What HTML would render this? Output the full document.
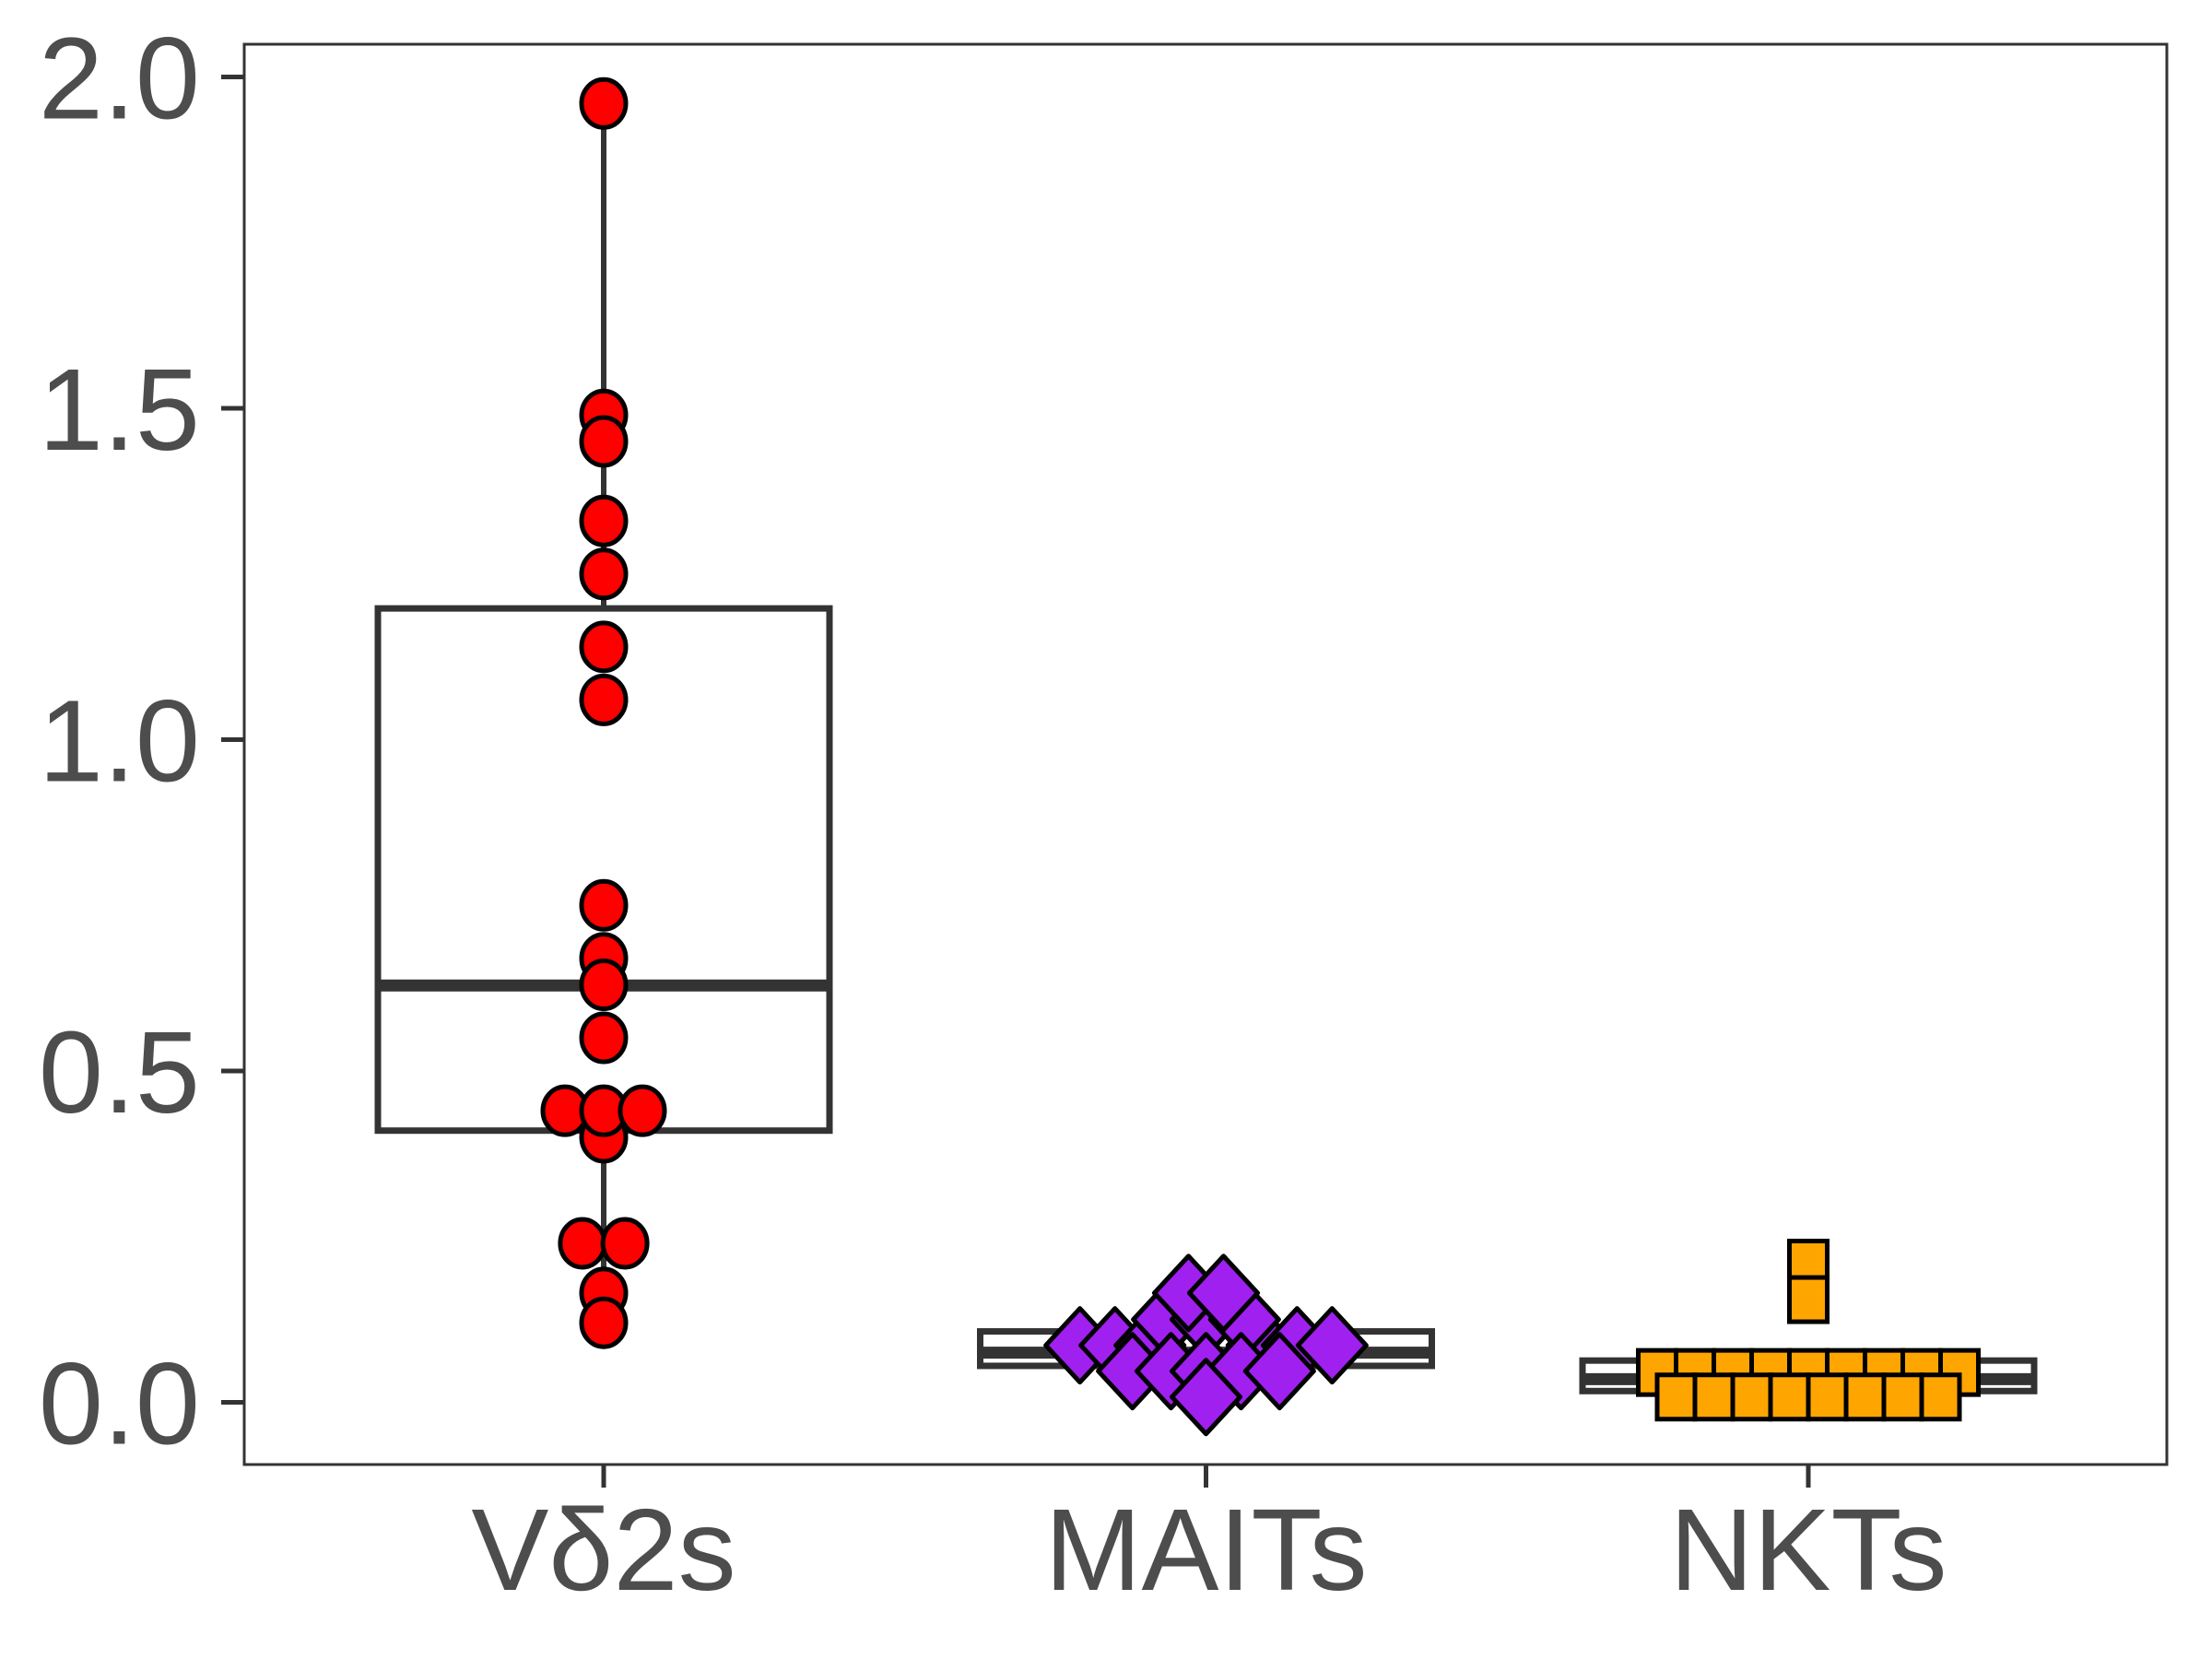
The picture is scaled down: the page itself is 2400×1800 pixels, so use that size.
<!DOCTYPE html>
<html><head><meta charset="utf-8"><style>
html,body{margin:0;padding:0;background:#fff;}
svg{display:block;}
text{font-family:"Liberation Sans","DejaVu Sans",sans-serif;fill:#4D4D4D;}
</style></head><body>
<svg id="chart" width="2400" height="1800" viewBox="0 0 2400 1800" xmlns="http://www.w3.org/2000/svg">
<rect x="0" y="0" width="2400" height="1800" fill="#fff"/>
<g id="marks"></g>
<rect x="265" y="48" width="2086" height="1541" fill="none" stroke="#333" stroke-width="3"/>
<g id="axes"></g>
</svg>
<script>
const categories = ["Vδ2s", "MAITs", "NKTs"];
const yTicks = [0, 0.5, 1, 1.5, 2];
const yTickLabels = ["0.0", "0.5", "1.0", "1.5", "2.0"];
// box stats: [q1, median, q3, whiskerLow, whiskerHigh]
const boxV = [0.41, 0.629, 1.198, 0.12, 1.96];
const boxM = [0.055, 0.075, 0.107, 0.055, 0.107];
const boxN = [0.017, 0.035, 0.063, 0.017, 0.063];
// points: values and beeswarm dodge (in marker widths)
const vdValues = [1.96, 1.49, 1.45, 1.33, 1.25, 1.14, 1.06, 0.75, 0.67, 0.63, 0.55, 0.40, 0.44, 0.44, 0.44, 0.24, 0.24, 0.165, 0.12];
const vdDodge  = [0, 0, 0, 0, 0, 0, 0, 0, 0, 0, 0, 0, -0.6, 0, 0.6, -0.33, 0.33, 0, 0];
const maitValues = [0.086, 0.086, 0.086, 0.086, 0.086, 0.086, 0.125, 0.125, 0.125, 0.165, 0.165, 0.047, 0.047, 0.047, 0.047, 0.047, 0.008];
const maitDodge  = [-1.8, -1.3, -0.8, 0.8, 1.3, 1.8, -0.55, 0, 0.55, -0.25, 0.25, -1.05, -0.5, 0, 0.5, 1.05, 0];
const nktValues = [0.21, 0.155, 0.045,0.045,0.045,0.045,0.045,0.045,0.045,0.045,0.045, 0.008,0.008,0.008,0.008,0.008,0.008,0.008,0.008];
const nktDodge  = [0, 0, -4,-3,-2,-1,0,1,2,3,4, -3.5,-2.5,-1.5,-0.5,0.5,1.5,2.5,3.5];

const NS = "http://www.w3.org/2000/svg";
function xScale(i){ return 655 + i * 653.5; }
function yScale(v){ return 1521.5 - v * 719; }
const marks = document.getElementById('marks');
const axes = document.getElementById('axes');
function mk(tag, attrs, parent){
  const e = document.createElementNS(NS, tag);
  for (const k in attrs) e.setAttribute(k, attrs[k]);
  parent.appendChild(e);
  return e;
}
function drawBox(i, b, halfW, name){
  const cx = xScale(i);
  const g = mk('g', {}, marks);
  
  
  const wl = mk('line', {x1:cx, x2:cx, y1:yScale(b[2]), y2:yScale(b[4]), stroke:'#333', 'stroke-width':6}, g);
  
  
  const wl2 = mk('line', {x1:cx, x2:cx, y1:yScale(b[0]), y2:yScale(b[3]), stroke:'#333', 'stroke-width':6}, g);
  
  
  const r = mk('rect', {x:cx-halfW, y:yScale(b[2]), width:halfW*2, height:Math.max(1,yScale(b[0])-yScale(b[2])), fill:'#fff', stroke:'#333', 'stroke-width':7}, g);
  
  
  const m = mk('line', {x1:cx-halfW, x2:cx+halfW, y1:yScale(b[1]), y2:yScale(b[1]), stroke:'#333', 'stroke-width':13}, g);
  
  
}
drawBox(0, boxV, 245, 'vd2s');
drawBox(1, boxM, 245, 'maits');
drawBox(2, boxN, 245, 'nkts');

vdValues.forEach((v, k) => {
  const c = mk('ellipse', {cx: xScale(0) + vdDodge[k]*70, cy: yScale(v), rx: 24, ry: 26, fill:'#FF0000', stroke:'#000', 'stroke-width':5}, marks);
  
  
});
maitValues.forEach((v, k) => {
  const cx = xScale(1) + maitDodge[k]*76, cy = yScale(v), hw = 37, hh = 40;
  const p = mk('polygon', {points:`${cx},${cy-hh} ${cx+hw},${cy} ${cx},${cy+hh} ${cx-hw},${cy}`, fill:'#A020F0', stroke:'#000', 'stroke-width':5, 'stroke-linejoin':'round'}, marks);
  
  
});
nktValues.forEach((v, k) => {
  const cx = xScale(2) + nktDodge[k]*41, cy = yScale(v);
  const s = mk('rect', {x:cx-20.5, y:cy-24, width:41, height:48, fill:'#FFA500', stroke:'#000', 'stroke-width':5}, marks);
  
  
});

yTicks.forEach((t, k) => {
  const y = yScale(t);
  const tk = mk('line', {x1:240, x2:265, y1:y, y2:y, stroke:'#333', 'stroke-width':5}, axes);
  
  
  const tx = mk('text', {x:217, y:y+45, 'text-anchor':'end', 'font-size':126}, axes);
  tx.textContent = yTickLabels[k];
  
  
});
categories.forEach((c, i) => {
  const x = xScale(i);
  const tk = mk('line', {x1:x, x2:x, y1:1589, y2:1614, stroke:'#333', 'stroke-width':5}, axes);
  
  
  const tx = mk('text', {x:x, y:1725, 'text-anchor':'middle', 'font-size':126}, axes);
  tx.textContent = c;
  
  
});
</script>
</body></html>
